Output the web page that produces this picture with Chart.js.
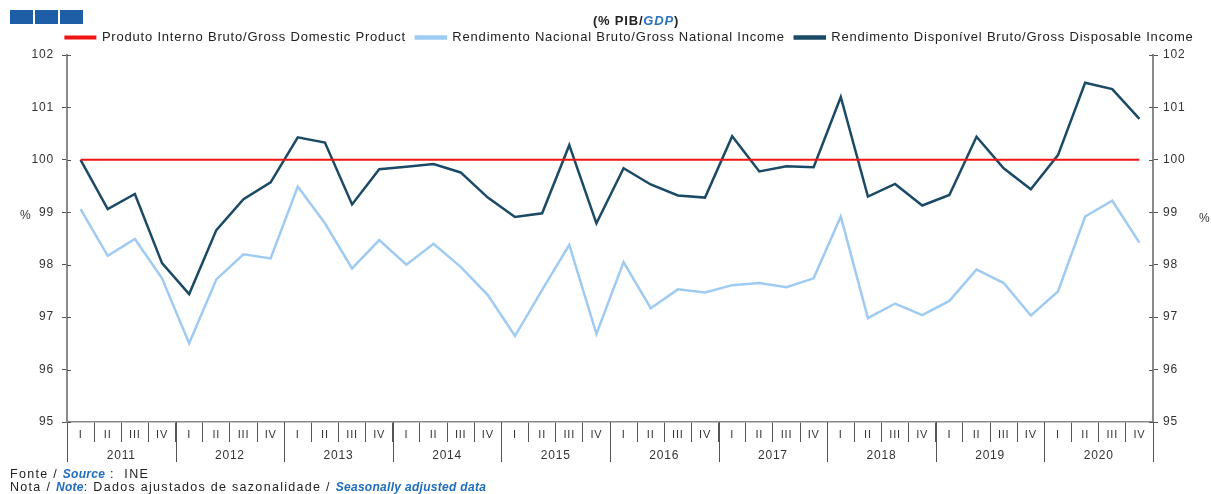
<!DOCTYPE html>
<html>
<head>
<meta charset="utf-8">
<script src="https://cdn.jsdelivr.net/npm/chart.js@4.4.1/dist/chart.umd.min.js"></script>
<style>
  body { margin: 0; background: #fff; font-family: "Liberation Sans", Arial, sans-serif; color: #222; }
  #wrap { position: relative; width: 1211px; height: 494px; overflow: hidden; }
  #chart { position: absolute; left: 0; top: 0; }
  .logo { position: absolute; top: 10px; width: 23px; height: 14px; background: #1d5ea6; }
  #title { position: absolute; top: 13px; left: 536px; width: 200px; text-align: center; font-size: 13px; font-weight: bold; letter-spacing: 0.8px; }
  #title i { color: #2a72c4; }
  .pct { position: absolute; font-size: 12px; color: #333; }
  .foot { position: absolute; left: 10px; font-size: 12.5px; letter-spacing: 1.3px; color: #222; white-space: nowrap; }
  .foot b { color: #1f6dbf; font-style: italic; font-size: 12px; letter-spacing: 0.3px; }
</style>
</head>
<body>
<div id="wrap">
  <canvas id="chart" width="1211" height="494"></canvas>
  <div class="logo" style="left:10px"></div>
  <div class="logo" style="left:35px"></div>
  <div class="logo" style="left:60px"></div>
  <div id="title">(% PIB/<i>GDP</i>)</div>
  <div class="pct" style="left:20px; top:208px">%</div>
  <div class="pct" style="left:1199px; top:211px">%</div>
  <div class="foot" style="top:467px">Fonte / <b>Source</b> :&nbsp; INE</div>
  <div class="foot" style="top:480px">Nota / <b>Note</b>: Dados ajustados de sazonalidade / <b>Seasonally adjusted data</b></div>
</div>
<script>
// quarters 2011 I .. 2020 IV
const years = ['2011', '2012', '2013', '2014', '2015', '2016', '2017', '2018', '2019', '2020'];
const quarters = ['I', 'II', 'III', 'IV'];
const categories = years.flatMap(() => quarters);

const gdp = new Array(40).fill(100);

const nationalIncome = [
  99.06, 98.17, 98.49, 97.74,
  96.50, 97.72, 98.20, 98.12,
  99.49, 98.79, 97.93, 98.47,
  98.00, 98.40, 97.96, 97.42,
  96.64, 97.52, 98.38, 96.68,
  98.05, 97.17, 97.53, 97.47,
  97.61, 97.65, 97.57, 97.74,
  98.92, 96.98, 97.26, 97.04,
  97.31, 97.91, 97.65, 97.03,
  97.49, 98.92, 99.22, 98.42
];

const disposableIncome = [
  100.00, 99.06, 99.35, 98.03,
  97.44, 98.66, 99.25, 99.57,
  100.43, 100.33, 99.15, 99.82,
  99.87, 99.92, 99.76, 99.28,
  98.91, 98.98, 100.28, 98.79,
  99.84, 99.53, 99.32, 99.28,
  100.45, 99.78, 99.88, 99.86,
  101.20, 99.30, 99.54, 99.13,
  99.33, 100.44, 99.84, 99.44,
  100.09, 101.47, 101.35, 100.78
];

const axisColor = '#8a8a8a';
const tickColor = '#555';
const spacing = '0.8px';

// year separators through the quarter row, inner half of the y ticks,
// a bit of extra legend height and a small legend shift to the right
const axisExtras = {
  id: 'axisExtras',
  afterInit(chart) {
    const fit = chart.legend.fit;
    chart.legend.fit = function () {
      this.ctx.letterSpacing = spacing;
      fit.call(this);
      this.height += 1;
    };
  },
  beforeUpdate(chart) {
    chart.ctx.letterSpacing = spacing;
  },
  afterLayout(chart) {
    chart.legend.left += 24;
    chart.legend.right += 24;
  },
  beforeDraw(chart) {
    chart.ctx.letterSpacing = spacing;
  },
  afterDraw(chart) {
    const ctx = chart.ctx;
    const x = chart.scales.x;
    const bottom = chart.scales.x2.bottom;
    ctx.save();
    ctx.strokeStyle = tickColor;
    ctx.lineWidth = 1;
    for (let i = 0; i <= years.length; i++) {
      const px = Math.round(x.getPixelForValue(i * 4 - 0.5)) + 0.5;
      ctx.beginPath();
      ctx.moveTo(px, chart.chartArea.bottom);
      ctx.lineTo(px, bottom);
      ctx.stroke();
    }
    const y = chart.scales.y;
    y.ticks.forEach(t => {
      const py = Math.round(y.getPixelForValue(t.value)) + 0.5;
      ctx.beginPath();
      ctx.moveTo(chart.chartArea.left, py);
      ctx.lineTo(chart.chartArea.left + 4, py);
      ctx.moveTo(chart.chartArea.right - 4, py);
      ctx.lineTo(chart.chartArea.right, py);
      ctx.stroke();
    });
    ctx.restore();
  }
};

const font = { family: '"Liberation Sans", Arial, sans-serif', size: 12 };

new Chart(document.getElementById('chart'), {
  type: 'line',
  data: {
    labels: categories,
    datasets: [
      {
        label: 'Produto Interno Bruto/Gross Domestic Product',
        data: gdp,
        borderColor: '#f01414',
        backgroundColor: '#f01414',
        borderWidth: 2
      },
      {
        label: 'Rendimento Nacional Bruto/Gross National Income',
        data: nationalIncome,
        borderColor: '#9fcbf3',
        backgroundColor: '#9fcbf3',
        borderWidth: 2.5
      },
      {
        label: 'Rendimento Disponível Bruto/Gross Disposable Income',
        data: disposableIncome,
        borderColor: '#1b4a66',
        backgroundColor: '#1b4a66',
        borderWidth: 2.5
      }
    ]
  },
  options: {
    responsive: false,
    animation: false,
    layout: { padding: { top: 21, bottom: 32, left: 0, right: 0 } },
    elements: { point: { radius: 0 }, line: { tension: 0 } },
    plugins: {
      tooltip: { enabled: false },
      legend: {
        position: 'top',
        labels: {
          boxWidth: 30,
          boxHeight: 2,
          padding: 10,
          color: '#222',
          font: { family: font.family, size: 13 }
        }
      }
    },
    scales: {
      x: {
        type: 'category',
        position: 'bottom',
        weight: 0,
        offset: true,
        afterFit: s => { s.height = 20; },
        grid: { offset: true, drawOnChartArea: false, tickLength: 20, color: tickColor },
        border: { color: axisColor, width: 1.5 },
        ticks: { autoSkip: false, maxRotation: 0, padding: -14, color: '#333', font: { family: font.family, size: 11 } }
      },
      x2: {
        type: 'category',
        labels: years,
        position: 'bottom',
        weight: 1,
        offset: true,
        afterFit: s => { s.height = 20; },
        grid: { display: false, drawTicks: false },
        border: { display: false },
        ticks: { autoSkip: false, maxRotation: 0, padding: 6, color: '#333', font: font }
      },
      y: {
        position: 'left',
        min: 95,
        max: 102,
        afterFit: s => { s.width = 67; },
        grid: { drawOnChartArea: false, tickLength: 5, color: tickColor },
        border: { color: axisColor, width: 2 },
        ticks: { stepSize: 1, padding: 8, color: '#333', font: font }
      },
      y2: {
        position: 'right',
        min: 95,
        max: 102,
        afterFit: s => { s.width = 58; },
        grid: { drawOnChartArea: false, tickLength: 5, color: tickColor },
        border: { color: axisColor, width: 2 },
        ticks: { stepSize: 1, padding: 5, color: '#333', font: font }
      }
    }
  },
  plugins: [axisExtras]
});
</script>
</body>
</html>
